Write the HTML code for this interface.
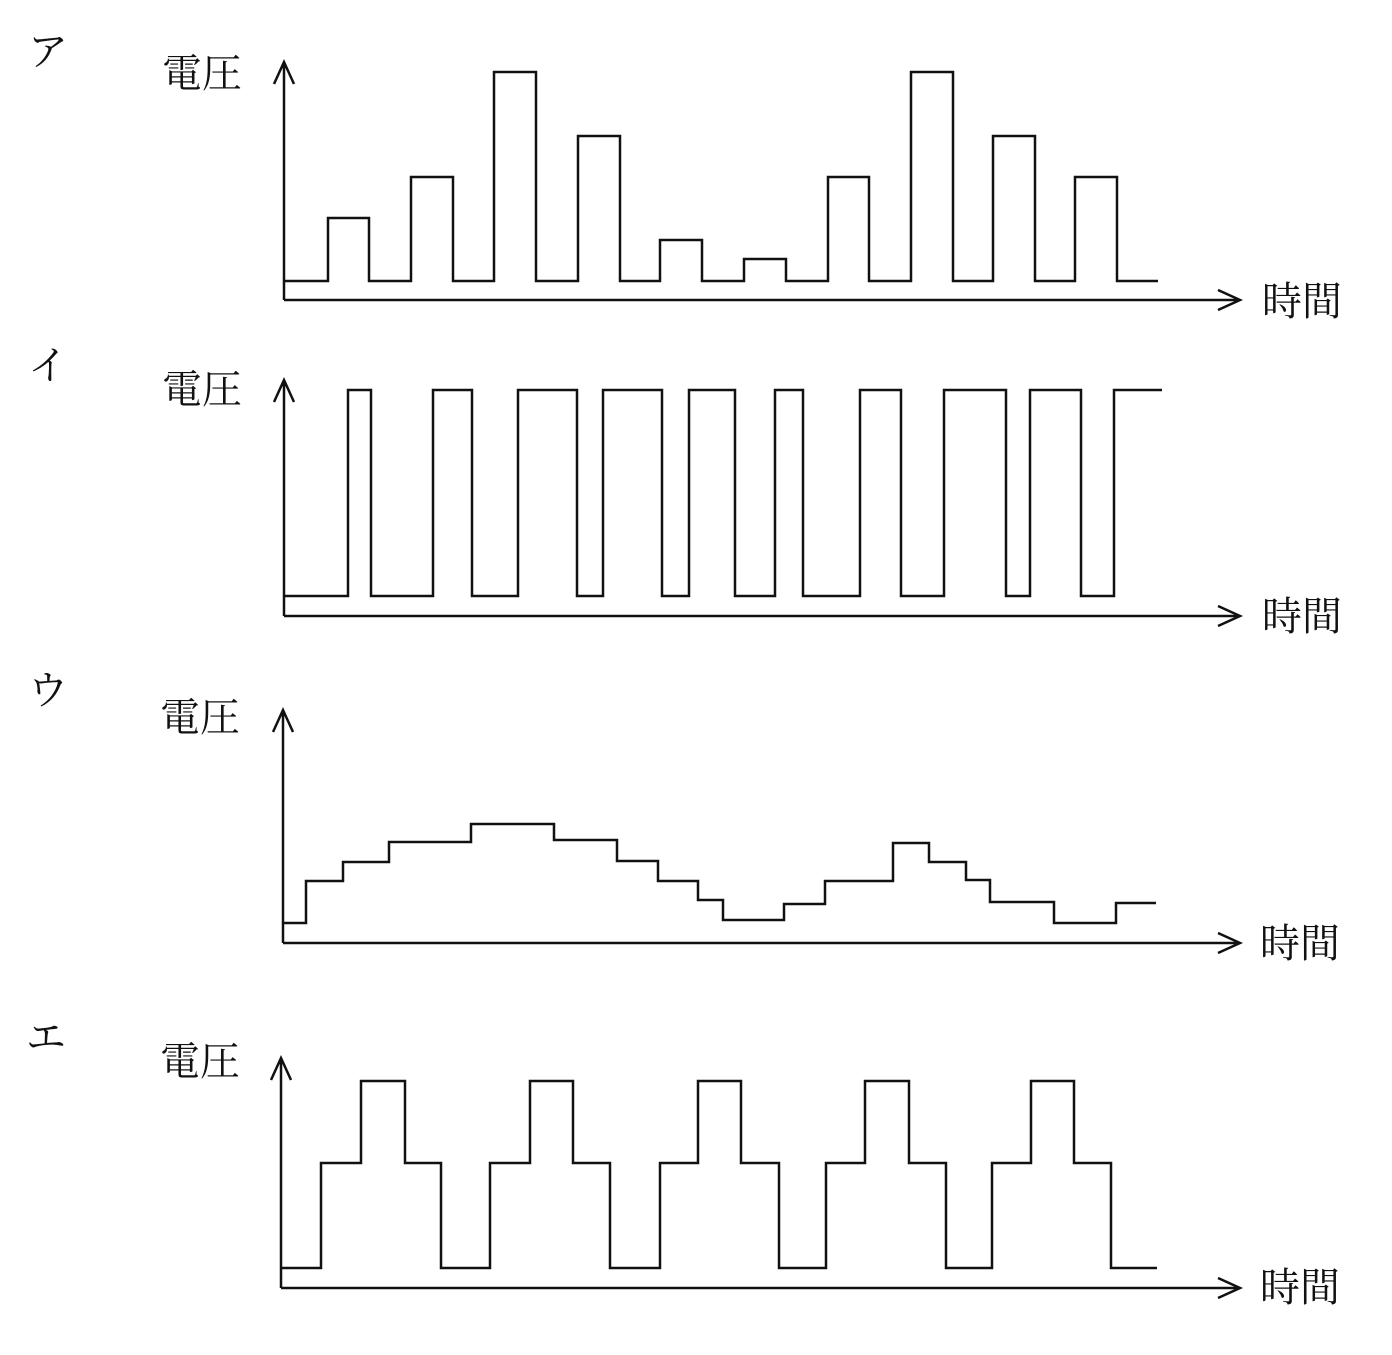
<!DOCTYPE html>
<html><head><meta charset="utf-8"><style>
html,body{margin:0;padding:0;background:#fff;}
svg text{font-family:"Liberation Serif","Noto Serif CJK SC","Noto Sans CJK JP",serif;fill:#111;}
</style></head><body>
<svg width="1392" height="1350" viewBox="0 0 1392 1350" xmlns="http://www.w3.org/2000/svg">
<g fill="none" stroke="#111" stroke-width="2.5">
<path d="M284 300V64M274 84L284 62L294 84"/>
<path d="M284 300H1238M1218 290L1240 300L1218 310"/>
<path d="M284 281H328V218H369V281H411V177H453V281H494V72H536V281H578V136H620V281H660V240H702V281H744V259H786V281H828V177H869V281H911V72H953V281H993V136H1035V281H1075V177H1117V281H1158"/>
<path d="M284 616V382M274 402L284 380L294 402"/>
<path d="M284 616H1238M1218 606L1240 616L1218 626"/>
<path d="M284 596H348V390H371V596H433V390H472V596H518V390H577V596H603V390H662V596H689V390H735V596H775V390H803V596H860V390H901V596H944V390H1006V596H1030V390H1081V596H1114V390H1162"/>
<path d="M283 943V712M273 732L283 710L293 732"/>
<path d="M283 943H1238M1218 933L1240 943L1218 953"/>
<path d="M284 923H306V881H343V862H389V842H471V824H554V840H617V861H658V881H698V900H723V920H784V904H825V881H893V843H929V862H966V880H990V902H1054V923H1116V903H1156"/>
<path d="M281 1288V1060M271 1080L281 1058L291 1080"/>
<path d="M281 1288H1238M1218 1278L1240 1288L1218 1298"/>
<path d="M281 1268H321V1163H361V1081H405V1163H441V1268H490V1163H530V1081H573V1163H610V1268H660V1163H698V1081H741V1163H779V1268H826V1163H865V1081H909V1163H946V1268H992V1163H1031V1081H1074V1163H1111V1268H1157"/>
</g>
<g font-size="40">
<text x="28" y="65">ア</text>
<text x="28" y="379">イ</text>
<text x="28" y="704">ウ</text>
<text x="26" y="1051">エ</text>
<text x="162" y="87">電圧</text>
<text x="162" y="403">電圧</text>
<text x="160" y="731">電圧</text>
<text x="160" y="1075">電圧</text>
<text x="1262" y="315">時間</text>
<text x="1262" y="630">時間</text>
<text x="1260" y="957">時間</text>
<text x="1260" y="1301">時間</text>
</g>
</svg>
</body></html>
